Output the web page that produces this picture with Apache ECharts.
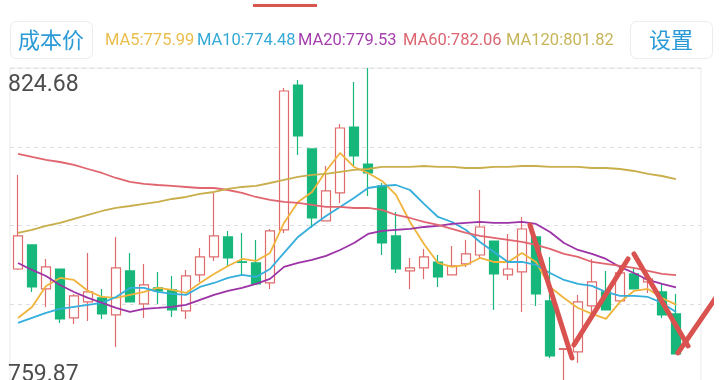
<!DOCTYPE html>
<html><head><meta charset="utf-8">
<script src="https://cdn.jsdelivr.net/npm/echarts@6/dist/echarts.min.js"></script>
<style>html,body{margin:0;padding:0;background:#fff}#c{width:720px;height:380px}</style>
</head><body><div id="c"></div>
<script>
// ---- data ----
const categories = ['1','2','3','4','5','6','7','8','9','10','11','12','13','14','15','16','17','18','19','20',
  '21','22','23','24','25','26','27','28','29','30','31','32','33','34','35','36','37','38','39','40',
  '41','42','43','44','45','46','47','48','49','50'];
// [open, close, low, high]
const candles = [
  [783.33,790.12,783.10,802.67],[788.27,779.63,778.60,788.27],[779.22,783.75,775.52,785.39],[783.33,773.05,772.23,783.33],
  [773.26,777.78,772.02,778.19],[776.55,778.60,772.64,786.62],[777.37,774.08,773.05,779.22],[773.87,783.54,767.29,789.92],
  [782.92,776.55,776.55,786.62],[776.13,780.04,773.26,784.36],[779.43,778.81,776.13,782.72],[779.01,774.90,773.46,781.89],
  [774.70,781.89,773.05,783.13],[782.10,785.80,780.66,787.65],[785.80,790.12,784.98,798.97],[789.92,785.60,783.75,791.15],
  [784.80,784.70,782.10,790.74],[784.57,780.25,780.25,789.30],[780.45,791.15,779.22,791.56],[791.36,819.95,790.74,820.57],
  [821.18,810.69,806.78,822.21],[808.02,793.83,791.77,808.02],[793.21,799.38,793.21,804.52],[798.97,812.34,796.91,813.16],
  [812.54,806.58,804.52,821.80],[804.93,803.08,798.35,824.68],[800.41,788.68,786.21,801.02],[790.12,783.33,782.51,795.06],
  [782.92,783.54,779.22,785.60],[783.54,785.80,781.28,787.45],[784.77,781.69,779.63,786.21],[782.10,783.95,782.10,788.07],
  [784.36,786.42,783.75,789.30],[786.21,791.97,785.60,799.58],[789.09,782.31,774.90,789.09],[782.10,783.33,781.07,790.53],
  [782.72,791.56,774.49,794.03],[789.92,778.19,775.72,789.92],[776.75,765.44,765.03,785.80],[766.80,766.95,759.87,766.95],
  [766.26,776.55,764.00,777.99],[775.72,780.66,773.46,785.39],[778.60,774.90,774.90,782.92],[776.75,782.51,776.75,783.95],
  [782.31,779.22,779.22,783.54],[780.66,781.28,778.40,782.10],[778.60,773.87,773.26,780.45],[774.08,765.85,765.85,778.19]
];
const ma5 = [773.26,775.52,779.84,781.48,781.07,778.81,777.57,777.37,777.99,778.60,779.43,779.01,778.40,780.45,782.31,783.95,
  785.39,784.98,786.63,792.80,797.12,799.17,803.49,807.20,804.32,803.08,801.44,798.56,793.00,788.48,784.57,783.75,
  784.16,785.60,784.77,784.77,786.63,784.77,779.63,777.37,775.31,774.08,773.05,776.55,778.81,779.22,777.37,775.99];
const ma10 = [772.23,773.26,774.28,775.11,775.52,775.93,776.34,777.57,779.43,779.43,778.60,778.19,777.99,779.63,780.45,781.48,
  782.10,781.69,783.33,786.63,789.92,792.18,794.24,796.09,797.94,799.99,800.41,800.61,799.58,796.71,794.03,793.00,
  791.36,788.89,786.83,784.77,784.77,784.16,782.51,781.07,780.25,779.84,778.60,777.78,777.78,777.57,776.34,774.48];
const ma20 = [784.57,783.13,781.89,780.04,778.60,777.37,776.34,775.31,774.49,775.11,775.31,775.52,775.93,776.96,777.99,778.81,
  779.43,780.25,781.28,783.75,784.57,785.19,786.01,787.24,788.68,790.53,791.15,791.36,791.56,791.97,792.18,792.59,
  792.80,793.00,792.80,792.80,793.00,792.59,790.95,788.68,787.24,786.42,785.39,783.75,782.51,781.07,780.25,779.53];
const ma60 = [806.99,806.37,805.76,805.34,804.73,803.90,803.08,802.05,801.23,800.82,800.61,800.41,800.20,799.99,799.99,799.58,
  798.97,798.14,797.53,797.12,796.91,796.50,796.09,796.09,795.88,795.88,795.47,794.44,793.82,793.00,792.38,791.56,
  790.74,790.12,789.71,789.30,788.89,788.27,787.45,786.42,785.80,784.77,784.36,783.95,783.54,782.92,782.31,782.06];
const ma120 = [790.74,791.36,792.18,792.80,793.62,794.44,795.26,795.88,796.29,796.71,797.12,797.73,798.14,798.76,799.17,799.79,
  800.20,800.41,801.02,801.64,802.26,802.67,802.88,803.29,803.70,803.90,804.32,804.32,804.32,804.52,804.32,804.32,
  804.11,804.11,804.32,804.32,804.52,804.52,804.32,804.32,804.32,804.11,804.11,803.90,803.49,802.88,802.46,801.82];
const maNames = ['MA5','MA10','MA20','MA60','MA120'];
const maLast = ['775.99','774.48','779.53','782.06','801.82'];
const yTicks = [759.87, 824.68];
// hand-drawn annotation strokes: [categoryPosition, price]
const strokes = [
  [[36.57,792.38],[39.57,765.03]],
  [[39.71,767.70],[43.57,785.39]],
  [[44.00,786.42],[47.86,767.50]],
  [[47.14,766.06],[49.93,777.78]]
];

// ---- style ----
const maColors = ['#f0b43c','#35aedb','#9c33a6','#e0656f','#c9ae4c'];
const legendColors = ['#ebbd4c','#35a9d6','#a43fac','#dc6570','#c7b55a'];
const legendX = [105, 197, 298, 403, 506];
const yMin = yTicks[0], yMax = yTicks[1];
const FONT = 'Roboto, "Noto Sans CJK SC", sans-serif';

const chart = echarts.init(document.getElementById('c'), null, {renderer:'canvas'});

const maSeries = [ma5, ma10, ma20, ma60, ma120].map((d, i) => ({
  name: maNames[i], type: 'line', data: d, xAxisIndex: 0, yAxisIndex: 0,
  showSymbol: false, symbol: 'none', smooth: false, z: 3,
  lineStyle: {color: maColors[i], width: 1.8}, itemStyle: {color: maColors[i]}
}));
const strokeSeries = strokes.map(s => ({
  type: 'line', data: s, xAxisIndex: 1, yAxisIndex: 0, clip: false,
  showSymbol: false, symbol: 'none', z: 10,
  lineStyle: {color: '#d9524f', width: 5, cap: 'round'}
}));
const legendTexts = maNames.map((n, i) => ({
  type: 'text', x: legendX[i], y: 41,
  style: {text: n + ':' + maLast[i], fill: legendColors[i], fontSize: 16.5, fontFamily: FONT, align: 'left', verticalAlign: 'middle'}
}));

const labelBase = {fontSize: 23, fontFamily: FONT, color: '#4d4d4d'};

chart.setOption({
  animation: false,
  backgroundColor: '#ffffff',
  grid: [
    {left: 11, top: 68, width: 700, height: 315, show: false, outerBoundsMode: 'none', containLabel: false},
    {left: 10, top: 68, width: 691, height: 315, show: true, borderColor: '#e9e9e9', borderWidth: 1,
      backgroundColor: 'transparent', outerBoundsMode: 'none', containLabel: false}
  ],
  xAxis: [
    {type: 'category', gridIndex: 0, data: categories, boundaryGap: true, show: false},
    {type: 'value', gridIndex: 0, min: -0.5, max: 49.5, show: false},
    {type: 'value', gridIndex: 1, min: 0, max: 1, show: false}
  ],
  yAxis: [
    {type: 'value', gridIndex: 0, min: yMin, max: yMax, show: false, splitLine: {show: false}},
    {type: 'value', gridIndex: 1, min: yMin, max: yMax, interval: (yMax - yMin) / 4,
      axisLine: {show: false}, axisTick: {show: false},
      splitLine: {show: true, lineStyle: {color: '#dedede', type: [4, 4], width: 1}},
      axisLabel: {
        inside: true, margin: -2, color: '#4d4d4d', fontSize: 23, fontFamily: FONT,
        showMinLabel: true, showMaxLabel: true,
        verticalAlignMinLabel: 'middle', verticalAlignMaxLabel: 'top',
        rich: {
          hi: Object.assign({lineHeight: 34}, labelBase),
          lo: Object.assign({lineHeight: 23, padding: [0, 0, 16, 0]}, labelBase)
        },
        formatter: v => Math.abs(v - yMax) < 0.01 ? '{hi|' + v.toFixed(2) + '}'
          : (Math.abs(v - yMin) < 0.01 ? '{lo|' + v.toFixed(2) + '}' : '')
      }
    }
  ],
  series: [
    {type: 'candlestick', data: candles, xAxisIndex: 0, yAxisIndex: 0, barWidth: 10, z: 2,
      itemStyle: {color: '#ffffff', color0: '#17b77b', borderColor: '#e06b6b', borderColor0: '#17b77b', borderWidth: 1.2}}
  ].concat(maSeries, strokeSeries),
  graphic: [
    {type: 'rect', left: 253, top: 4, shape: {width: 64, height: 3}, style: {fill: '#d9554f'}},
    {type: 'rect', left: 10, top: 21, shape: {width: 82, height: 37, r: 6}, style: {fill: '#fff', stroke: '#ececec', lineWidth: 1}},
    {type: 'text', x: 51, y: 40, style: {text: '成本价', fill: '#2b9ad6', fontSize: 22, fontFamily: '"Noto Sans CJK SC", sans-serif', align: 'center', verticalAlign: 'middle'}},
    {type: 'rect', left: 630, top: 21, shape: {width: 82, height: 37, r: 6}, style: {fill: '#fff', stroke: '#ececec', lineWidth: 1}},
    {type: 'text', x: 671, y: 40, style: {text: '设置', fill: '#2b9ad6', fontSize: 22, fontFamily: '"Noto Sans CJK SC", sans-serif', align: 'center', verticalAlign: 'middle'}}
  ].concat(legendTexts)
});
</script>
</body></html>
